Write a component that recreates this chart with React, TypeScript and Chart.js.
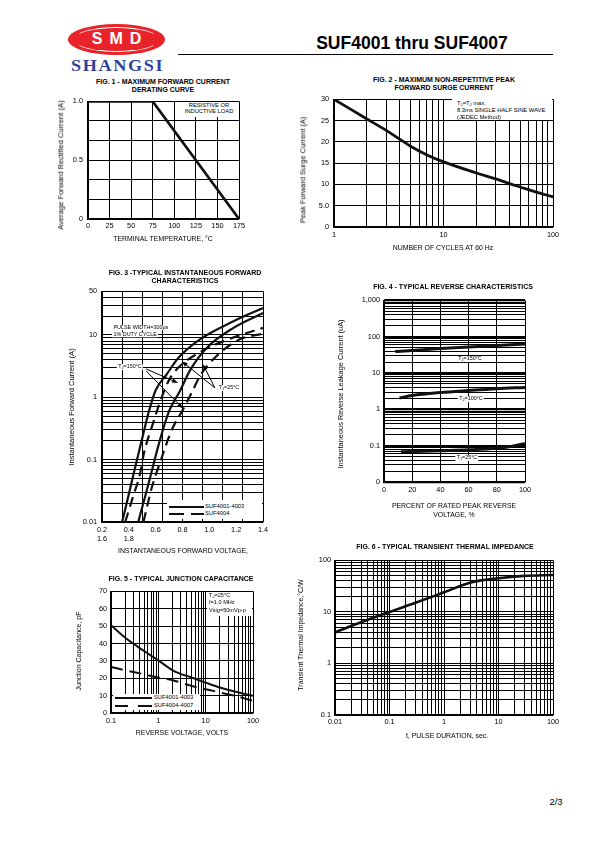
import React, { useEffect, useRef } from "react";
import { Chart, registerables } from "chart.js";

Chart.register(...registerables);

const FONT = "'Liberation Sans', Arial, Helvetica, sans-serif";
const INK = "#000";
const CURVE = "#111";

/* ---------- FIG. 1 : derating curve ---------- */
const derateTemp = [0, 75, 175];
const derateCurrent = [1.0, 1.0, 0];
const fig1XTicks = [0, 25, 50, 75, 100, 125, 150, 175];
const fig1XLabels = ["0", "25", "50", "75", "100", "125", "150", "175"];
const fig1YTicks = [0, 0.1667, 0.3333, 0.5, 0.6667, 0.8333, 1.0];
const fig1YLabels = ["0", "", "", "0.5", "", "", "1.0"];

/* ---------- FIG. 2 : surge current ---------- */
const surgeCycles = [1, 2, 3, 4, 5, 7, 10, 20, 30, 40, 50, 70, 100];
const surgeCurrent = [30, 25.4, 22.7, 20.6, 19.0, 17.0, 15.3, 12.7, 11.3, 10.2, 9.4, 8.2, 7.1];
const fig2YTicks = [0, 5, 10, 15, 20, 25, 30];
const fig2YLabels = ["0", "5.0", "10", "15", "20", "25", "30"];
const fig2XLabelValues = [1, 10, 100];
const fig2XLabels = ["1", "10", "100"];

/* ---------- FIG. 3 : forward characteristics ---------- */
const fwd4001HotV = [0.35, 0.40, 0.45, 0.50, 0.55, 0.60, 0.68, 0.77, 0.93, 1.18, 1.40];
const fwd4001HotI = [0.01, 0.028, 0.08, 0.22, 0.6, 1.3, 2.3, 4.3, 8.5, 16.6, 27];
const fwd4001ColdV = [0.47, 0.52, 0.56, 0.63, 0.70, 0.78, 0.86, 0.98, 1.18, 1.40];
const fwd4001ColdI = [0.01, 0.025, 0.053, 0.2, 0.6, 1.25, 2.8, 6.2, 13, 22.5];
const fwd4004HotV = [0.373, 0.43, 0.484, 0.51, 0.583, 0.633, 0.70, 0.769, 0.93, 1.128, 1.40];
const fwd4004HotI = [0.01, 0.025, 0.06, 0.12, 0.4, 0.85, 1.9, 3.0, 5.3, 8.3, 13];
const fwd4004ColdV = [0.509, 0.57, 0.633, 0.72, 0.806, 0.87, 0.93, 1.054, 1.227, 1.40];
const fwd4004ColdI = [0.01, 0.035, 0.09, 0.3, 0.65, 1.2, 2.2, 4.6, 8.5, 10.5];
const fig3XGrid = [0.2, 0.35, 0.5, 0.65, 0.8, 0.95, 1.1, 1.25, 1.4];
const fig3XLabelValues = [0.2, 0.4, 0.6, 0.8, 1.0, 1.2, 1.4];
const fig3XLabels: (string | string[])[] = [["0.2", "1.6"], ["0.4", "1.8"], "0.6", "0.8", "1.0", "1.2", "1.4"];
const fig3YLabelValues = [0.01, 0.1, 1, 10, 50];
const fig3YLabels = ["0.01", "0.1", "1", "10", "50"];
// annotation arrows (voltage, current)
const fig3ArrowFromV = [0.529, 0.529, 1.041, 1.041];
const fig3ArrowFromI = [2.85, 2.65, 1.42, 1.42];
const fig3ArrowToV = [0.767, 0.804, 0.794, 0.952];
const fig3ArrowToI = [1.7, 0.66, 3.8, 3.4];

/* ---------- FIG. 4 : reverse characteristics ---------- */
const rev150Pct = [8, 20, 40, 60, 80, 100];
const rev150Cur = [39, 42, 47, 52, 57, 63];
const rev100Pct = [11, 20, 40, 60, 80, 100];
const rev100Cur = [2.06, 2.4, 2.9, 3.3, 3.7, 4.0];
const rev25Pct = [12, 40, 60, 80, 90, 100];
const rev25Cur = [0.068, 0.073, 0.077, 0.085, 0.095, 0.115];
const fig4XTicks = [0, 20, 40, 60, 80, 100];
const fig4XLabels = ["0", "20", "40", "60", "80", "100"];
const fig4YLabelValues = [0.01, 0.1, 1, 10, 100, 1000];
const fig4YLabels = ["0", "0.1", "1", "10", "100", "1,000"];

/* ---------- FIG. 5 : junction capacitance ---------- */
const capVolt = [0.1, 0.2, 0.5, 1, 2, 5, 10, 20, 50, 100];
const cap4001 = [50.5, 43.3, 35.7, 30.3, 24.6, 20.4, 17.5, 14.7, 11.8, 9.9];
const cap4004 = [26.5, 24.6, 22.3, 20.4, 18.9, 15.6, 13.7, 11.8, 9.3, 7.0];
const fig5YTicks = [0, 10, 20, 30, 40, 50, 60, 70];
const fig5YLabels = ["0", "10", "20", "30", "40", "50", "60", "70"];
const fig5XLabelValues = [0.1, 1, 10, 100];
const fig5XLabels = ["0.1", "1", "10", "100"];

/* ---------- FIG. 6 : transient thermal impedance ---------- */
const pulseTime = [0.01, 0.03, 0.1, 0.3, 1, 3, 10, 30, 100];
const thermalZ = [4.0, 6.3, 10, 15, 24, 37, 45, 50, 52];
const fig6XLabelValues = [0.01, 0.1, 1, 10, 100];
const fig6XLabels = ["0.01", "0.1", "1", "10", "100"];
const fig6YLabelValues = [0.1, 1, 10, 100];
const fig6YLabels = ["0.1", "1", "10", "100"];

/* ---------- helpers ---------- */
type Area = { x: number; y: number; w: number; h: number };
type Margins = { l: number; t: number; r: number; b: number };

function logGrid(min: number, max: number): number[] {
  const out: number[] = [];
  let dec = Math.pow(10, Math.floor(Math.log10(min) + 1e-9));
  while (dec <= max * 1.0001) {
    for (let k = 1; k <= 9; k++) {
      const v = +(k * dec).toPrecision(6);
      if (v >= min * 0.9999 && v <= max * 1.0001) out.push(v);
    }
    dec *= 10;
  }
  return out;
}

const pick = (values: number[], texts: any[]) => (v: number) => {
  const i = values.findIndex((u) => Math.abs(u - v) <= Math.abs(u) * 1e-4 + 1e-9);
  return i >= 0 ? texts[i] : "";
};

const isDecade = (v: number) => Math.abs(Math.log10(v) - Math.round(Math.log10(v))) < 1e-6;

type AxisSpec = {
  type: "linear" | "logarithmic";
  min: number;
  max: number;
  position: "left" | "bottom";
  size: number;
  grid: number[];
  label?: (v: number) => any;
  pad?: number;
  showGrid?: boolean;
  showBorder?: boolean;
  showTicks?: boolean;
  gridWidth?: (v: number) => number;
};

function axis(a: AxisSpec) {
  const horiz = a.position === "bottom";
  return {
    type: a.type,
    min: a.min,
    max: a.max,
    position: a.position,
    afterBuildTicks: (s: any) => {
      s.ticks = a.grid.map((v) => ({ value: v }));
    },
    afterFit: (s: any) => {
      if (horiz) s.height = a.size;
      else s.width = a.size;
    },
    grid: {
      display: a.showGrid !== false,
      color: INK,
      lineWidth: (ctx: any) => (a.gridWidth && ctx.tick ? a.gridWidth(ctx.tick.value) : 1),
      drawTicks: false,
    },
    border: { display: a.showBorder !== false, color: INK, width: 1.2 },
    ticks: {
      display: a.showTicks !== false,
      autoSkip: false,
      maxRotation: 0,
      minRotation: 0,
      padding: a.pad ?? 4,
      color: INK,
      font: { family: FONT, size: 7.3 },
      callback: (v: any, i: number, ticks: any[]) =>
        a.label ? a.label(ticks && ticks[i] ? ticks[i].value : v) : "",
    },
  };
}

function curve(xs: number[], ys: number[], width: number, dash: number[] = [], smooth = true, label = "") {
  return {
    label,
    data: xs.map((x, i) => ({ x, y: ys[i] })),
    borderColor: CURVE,
    borderWidth: width,
    borderDash: dash,
    pointRadius: 0,
    fill: false,
    cubicInterpolationMode: smooth ? "monotone" : "default",
    tension: 0,
  };
}

function makeConfig(m: Margins, datasets: any[], scales: any, plugins: any[] = []) {
  return {
    type: "line",
    data: { datasets },
    options: {
      responsive: false,
      maintainAspectRatio: false,
      animation: false,
      devicePixelRatio: 1,
      events: [],
      layout: { padding: { top: m.t, right: m.r, left: 0, bottom: 0 } },
      plugins: { legend: { display: false }, tooltip: { enabled: false }, title: { display: false } },
      elements: { point: { radius: 0 }, line: { borderCapStyle: "butt" } },
      scales,
    },
    plugins,
  };
}

function ChartBox({ area, m, build }: { area: Area; m: Margins; build: (m: Margins) => any }) {
  const ref = useRef<HTMLCanvasElement>(null);
  const W = area.w + m.l + m.r;
  const H = area.h + m.t + m.b;
  useEffect(() => {
    const chart = new Chart(ref.current as HTMLCanvasElement, build(m) as any);
    return () => chart.destroy();
  }, []);
  return (
    <canvas
      ref={ref}
      width={W}
      height={H}
      style={{ position: "absolute", left: area.x - m.l, top: area.y - m.t, width: W, height: H }}
    />
  );
}

function T({
  x, y, s = 6.5, b = false, rot = false, left = false, bg = false, children,
}: { x: number; y: number; s?: number; b?: boolean; rot?: boolean; left?: boolean; bg?: boolean; children: any }) {
  return (
    <div
      style={{
        position: "absolute",
        left: x,
        top: y,
        fontFamily: FONT,
        fontSize: s,
        fontWeight: b ? "bold" : "normal",
        color: INK,
        whiteSpace: "nowrap",
        lineHeight: 1,
        background: bg ? "#fff" : "transparent",
        padding: bg ? "0 1.5px" : 0,
        transform: `translate(${left ? "0" : "-50%"}, -50%)${rot ? " rotate(-90deg)" : ""}`,
      }}
    >
      {children}
    </div>
  );
}

const J = () => <span style={{ fontSize: "0.72em", verticalAlign: "-0.25em" }}>J</span>;

function Rect({ x, y, w, h, c = "#fff" }: { x: number; y: number; w: number; h: number; c?: string }) {
  return <div style={{ position: "absolute", left: x, top: y, width: w, height: h, background: c }} />;
}

/* ---------- chart builders ---------- */
const M: Margins = { l: 28, t: 8, r: 14, b: 18 };
const M3: Margins = { l: 28, t: 8, r: 14, b: 28 };

const build1 = (m: Margins) =>
  makeConfig(m, [curve(derateTemp, derateCurrent, 2.6, [], false, "Derating")], {
    x: axis({ type: "linear", min: 0, max: 175, position: "bottom", size: m.b, grid: fig1XTicks, label: pick(fig1XTicks, fig1XLabels), pad: 3 }),
    y: axis({ type: "linear", min: 0, max: 1, position: "left", size: m.l, grid: fig1YTicks, label: pick(fig1YTicks, fig1YLabels), pad: 5 }),
  });

const build2 = (m: Margins) =>
  makeConfig(m, [curve(surgeCycles, surgeCurrent, 2.8, [], true, "Surge")], {
    x: axis({ type: "logarithmic", min: 1, max: 100, position: "bottom", size: m.b, grid: logGrid(1, 100), label: pick(fig2XLabelValues, fig2XLabels), pad: 4 }),
    y: axis({ type: "linear", min: 0, max: 30, position: "left", size: m.l, grid: fig2YTicks, label: pick(fig2YTicks, fig2YLabels), pad: 5 }),
  });

const arrowPlugin = {
  id: "fig3arrows",
  afterDatasetsDraw(chart: any) {
    const { ctx } = chart;
    const xs = chart.scales.x;
    const ys = chart.scales.y;
    ctx.save();
    ctx.strokeStyle = INK;
    ctx.fillStyle = INK;
    ctx.lineWidth = 1;
    for (let i = 0; i < fig3ArrowFromV.length; i++) {
      const x1 = xs.getPixelForValue(fig3ArrowFromV[i]);
      const y1 = ys.getPixelForValue(fig3ArrowFromI[i]);
      const x2 = xs.getPixelForValue(fig3ArrowToV[i]);
      const y2 = ys.getPixelForValue(fig3ArrowToI[i]);
      const a = Math.atan2(y2 - y1, x2 - x1);
      ctx.beginPath();
      ctx.moveTo(x1, y1);
      ctx.lineTo(x2 - 4 * Math.cos(a), y2 - 4 * Math.sin(a));
      ctx.stroke();
      ctx.beginPath();
      ctx.moveTo(x2, y2);
      ctx.lineTo(x2 - 6 * Math.cos(a) + 2.2 * Math.sin(a), y2 - 6 * Math.sin(a) - 2.2 * Math.cos(a));
      ctx.lineTo(x2 - 6 * Math.cos(a) - 2.2 * Math.sin(a), y2 - 6 * Math.sin(a) + 2.2 * Math.cos(a));
      ctx.closePath();
      ctx.fill();
    }
    ctx.restore();
  },
};

const build3 = (m: Margins) =>
  makeConfig(
    m,
    [
      curve(fwd4001HotV, fwd4001HotI, 2.2, [], true, "SUF4001-4003"),
      curve(fwd4001ColdV, fwd4001ColdI, 2.2, [], true, "SUF4001-4003"),
      curve(fwd4004HotV, fwd4004HotI, 2.2, [10, 6], true, "SUF4004"),
      curve(fwd4004ColdV, fwd4004ColdI, 2.2, [10, 6], true, "SUF4004"),
    ],
    {
      x: axis({ type: "linear", min: 0.2, max: 1.4, position: "bottom", size: 0, grid: fig3XGrid, showTicks: false }),
      x2: axis({ type: "linear", min: 0.2, max: 1.4, position: "bottom", size: m.b, grid: fig3XLabelValues, label: pick(fig3XLabelValues, fig3XLabels), pad: 4, showGrid: false, showBorder: false }),
      y: axis({ type: "logarithmic", min: 0.01, max: 50, position: "left", size: m.l, grid: logGrid(0.01, 50), label: pick(fig3YLabelValues, fig3YLabels), pad: 5 }),
    },
    [arrowPlugin]
  );

const build4 = (m: Margins) =>
  makeConfig(
    m,
    [
      curve(rev150Pct, rev150Cur, 3, [], true, "TJ=150°C"),
      curve(rev100Pct, rev100Cur, 3, [], true, "TJ=100°C"),
      curve(rev25Pct, rev25Cur, 3, [], true, "TJ=25°C"),
    ],
    {
      x: axis({ type: "linear", min: 0, max: 100, position: "bottom", size: m.b, grid: fig4XTicks, label: pick(fig4XTicks, fig4XLabels), pad: 4 }),
      y: axis({ type: "logarithmic", min: 0.01, max: 1000, position: "left", size: m.l, grid: logGrid(0.01, 1000), label: pick(fig4YLabelValues, fig4YLabels), pad: 4, gridWidth: (v) => (isDecade(v) ? 2.2 : 1) }),
    }
  );

const build5 = (m: Margins) =>
  makeConfig(
    m,
    [
      curve(capVolt, cap4001, 2, [], true, "SUF4001-4003"),
      curve(capVolt, cap4004, 2, [12, 7], true, "SUF4004-4007"),
    ],
    {
      x: axis({ type: "logarithmic", min: 0.1, max: 100, position: "bottom", size: m.b, grid: logGrid(0.1, 100), label: pick(fig5XLabelValues, fig5XLabels), pad: 4 }),
      y: axis({ type: "linear", min: 0, max: 70, position: "left", size: m.l, grid: fig5YTicks, label: pick(fig5YTicks, fig5YLabels), pad: 4 }),
    }
  );

const build6 = (m: Margins) =>
  makeConfig(m, [curve(pulseTime, thermalZ, 2.6, [], true, "Zth")], {
    x: axis({ type: "logarithmic", min: 0.01, max: 100, position: "bottom", size: m.b, grid: logGrid(0.01, 100), label: pick(fig6XLabelValues, fig6XLabels), pad: 3 }),
    y: axis({ type: "logarithmic", min: 0.1, max: 100, position: "left", size: m.l, grid: logGrid(0.1, 100), label: pick(fig6YLabelValues, fig6YLabels), pad: 4 }),
  });

/* ---------- page ---------- */
export default function App() {
  return (
    <div style={{ position: "fixed", left: 0, top: 0, width: 595, height: 842, background: "#fff", overflow: "hidden" }}>
      {/* logo */}
      <div style={{ position: "absolute", left: 68, top: 24, width: 97, height: 31, borderRadius: "50%", background: "#e8232a" }}>
        <div
          style={{
            position: "absolute", left: 5, top: 3, width: 87, height: 25, borderRadius: "50%",
            border: "1.4px solid #fff", borderLeftColor: "transparent", borderRightColor: "transparent", boxSizing: "border-box",
          }}
        />
        <div
          style={{
            position: "absolute", left: 0, right: 0, top: 7, textAlign: "center", color: "#fff", fontWeight: "bold",
            fontSize: 16, fontFamily: FONT, letterSpacing: 7, lineHeight: "16px", paddingLeft: 7,
          }}
        >
          SMD
        </div>
      </div>
      <div
        style={{
          position: "absolute", left: 71, top: 58, fontFamily: "'Liberation Serif', 'DejaVu Serif', serif", fontWeight: "bold",
          fontSize: 16.5, lineHeight: 1, color: "#2f3f9d", letterSpacing: 1.5, transform: "scaleX(1.1)", transformOrigin: "left top",
        }}
      >
        SHANGSI
      </div>
      <T x={412} y={44} s={17.5} b>SUF4001 thru SUF4007</T>
      <Rect x={178} y={54} w={375} h={1.3} c="#000" />

      {/* FIG 1 */}
      <T x={163} y={80.5} s={7} b>FIG. 1 - MAXIMUM FORWARD CURRENT</T>
      <T x={163} y={88.5} s={7} b>DERATING CURVE</T>
      <ChartBox area={{ x: 88, y: 100, w: 151, h: 119 }} m={M} build={build1} />
      <Rect x={182} y={102} w={54} h={14.5} />
      <T x={209} y={105.5} s={5.8}>RESISTIVE OR</T>
      <T x={209} y={112} s={5.8}>INDUCTIVE LOAD</T>
      <T x={163} y={239} s={6.9}>TERMINAL TEMPERATURE, °C</T>
      <T x={61} y={165} s={7.6} rot>Average Forward Rectified Current (A)</T>

      {/* FIG 2 */}
      <T x={444} y={79} s={7} b>FIG. 2 - MAXIMUM NON-REPETITIVE PEAK</T>
      <T x={444} y={87} s={7} b>FORWARD SURGE CURRENT</T>
      <ChartBox area={{ x: 334, y: 98, w: 219, h: 129 }} m={M} build={build2} />
      <Rect x={452} y={99} w={100} h={21} />
      <T x={457} y={104} s={5.8} left>T<J />=T<J /> max.</T>
      <T x={457} y={111} s={5.8} left>8.3ms SINGLE HALF SINE WAVE</T>
      <T x={457} y={117.5} s={5.8} left>(JEDEC Method)</T>
      <T x={443} y={248} s={6.9}>NUMBER OF CYCLES AT 60 Hz</T>
      <T x={303} y={170} s={7.4} rot>Peak Forward Surge Current (A)</T>

      {/* FIG 3 */}
      <T x={185} y={271.5} s={7} b>FIG. 3 -TYPICAL INSTANTANEOUS FORWARD</T>
      <T x={185} y={279.5} s={7} b>CHARACTERISTICS</T>
      <ChartBox area={{ x: 102, y: 290, w: 161, h: 232 }} m={M3} build={build3} />
      <T x={112} y={328} s={5.4} left bg>PULSE WIDTH=300μs</T>
      <T x={112} y={335} s={5.4} left bg>1% DUTY CYCLE</T>
      <T x={130} y={367} s={5.4} bg>T<J />=150°C</T>
      <T x={229} y={388} s={5.4} bg>T<J />=25°C</T>
      <Rect x={167} y={500} w={95} h={19} />
      <Rect x={169} y={505.5} w={35} h={2} c="#111" />
      <Rect x={169} y={512.5} w={15} h={2} c="#111" />
      <Rect x={191} y={512.5} w={13} h={2} c="#111" />
      <T x={205} y={506.5} s={5.8} left>SUF4001-4003</T>
      <T x={205} y={513.5} s={5.8} left>SUF4004</T>
      <T x={183} y={551} s={6.9}>INSTANTANEOUS FORWARD VOLTAGE,</T>
      <T x={72} y={407} s={7.6} rot>Instantaneous Forward Current (A)</T>

      {/* FIG 4 */}
      <T x={453} y={286} s={7} b>FIG. 4 - TYPICAL REVERSE CHARACTERISTICS</T>
      <ChartBox area={{ x: 384, y: 300, w: 141, h: 182 }} m={M} build={build4} />
      <T x={470} y={359} s={5.4} bg>T<J />=150°C</T>
      <T x={471} y={399} s={5.4} bg>T<J />=100°C</T>
      <T x={467} y={458} s={5.4} bg>T<J />=25°C</T>
      <T x={454} y={506} s={6.9}>PERCENT OF RATED PEAK REVERSE</T>
      <T x={454} y={514.5} s={6.9}>VOLTAGE, %</T>
      <T x={341} y={394} s={7.4} rot>Instantaneous Reverse Leakage Current (uA)</T>

      {/* FIG 5 */}
      <T x={181} y={578} s={7} b>FIG. 5 - TYPICAL JUNCTION CAPACITANCE</T>
      <ChartBox area={{ x: 111, y: 591, w: 142, h: 122 }} m={M} build={build5} />
      <Rect x={207} y={592} w={45} h={24} />
      <T x={209} y={595.5} s={5.6} left>T<J />=25°C</T>
      <T x={209} y={603} s={5.6} left>f=1.0 MHz</T>
      <T x={209} y={610.5} s={5.6} left>Vsig=50mVp-p</T>
      <Rect x={113} y={693.5} w={87} h={16} />
      <Rect x={115} y={697} w={37} h={2} c="#111" />
      <Rect x={115} y={704.8} w={13} h={2} c="#111" />
      <Rect x={138} y={704.8} w={14} h={2} c="#111" />
      <T x={154} y={698} s={5.8} left>SUF4001-4003</T>
      <T x={154} y={706} s={5.8} left>SUF4004-4007</T>
      <T x={182} y={733} s={6.9}>REVERSE VOLTAGE, VOLTS</T>
      <T x={78} y={651} s={7} rot>Junction Capacitance, pF</T>

      {/* FIG 6 */}
      <T x={445} y={546} s={7} b>FIG. 6 - TYPICAL TRANSIENT THERMAL IMPEDANCE</T>
      <ChartBox area={{ x: 335, y: 560, w: 218, h: 155 }} m={M} build={build6} />
      <T x={447} y={736} s={6.9}>t, PULSE DURATION, sec.</T>
      <T x={300} y={635} s={7} rot>Transient Thermal Impedance,°C/W</T>

      <T x={556} y={802} s={9.5}>2/3</T>
    </div>
  );
}
